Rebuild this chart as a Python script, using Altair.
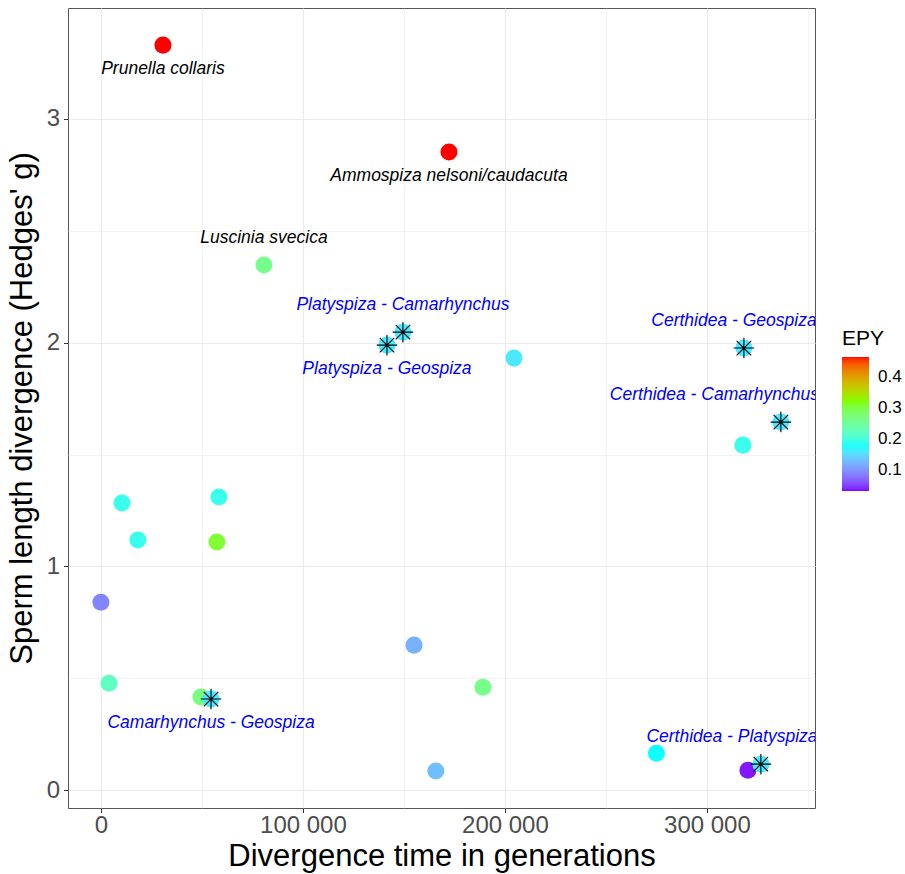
import altair as alt
import pandas as pd

# Divergence time (generations), Hedges' g, EPY, finch pair flag, label, label side
gen = [30700, 172300, 80700, 204500, 317800, 10400, 58400, 18300, 57400, 0,
       4000, 155000, 189100, 49500, 165800, 275000, 320300,
       149500, 141600, 318300, 336600, 54500, 326700]
hedges_g = [3.33, 2.852, 2.347, 1.931, 1.542, 1.283, 1.310, 1.118, 1.109, 0.840,
            0.478, 0.648, 0.460, 0.416, 0.085, 0.165, 0.089,
            2.047, 1.989, 1.976, 1.645, 0.407, 0.116]
epy = [0.465, 0.465, 0.262, 0.16, 0.19, 0.19, 0.19, 0.19, 0.31, 0.09,
       0.22, 0.12, 0.262, 0.27, 0.13, 0.175, 0.035,
       0.16, 0.16, 0.16, 0.16, 0.16, 0.16]
finch = [0] * 17 + [1] * 6
label = ["Prunella collaris", "Ammospiza nelsoni/caudacuta", "Luscinia svecica"] + [""] * 14 + [
    "Platyspiza - Camarhynchus", "Platyspiza - Geospiza", "Certhidea - Geospiza",
    "Certhidea - Camarhynchus", "Camarhynchus - Geospiza", "Certhidea - Platyspiza"]
label_side = ["below", "below", "above"] + [""] * 14 + [
    "above", "below", "above", "above", "below", "above"]
# x position (generations) at which each label is centred
label_gen = [30700, 172300, 80700, 204500, 317800, 10400, 58400, 18300, 57400, 0,
             4000, 155000, 189100, 49500, 165800, 275000, 320300,
             149500, 141600, 313400, 303700, 54500, 312400]

x_ticks = [0, 50000, 100000, 150000, 200000, 250000, 300000, 350000]
y_ticks = [0, 0.5, 1, 1.5, 2, 2.5, 3, 3.5]
legend_ticks = [0.1, 0.2, 0.3, 0.4]

df = pd.DataFrame({"gen": gen, "g": hedges_g, "epy": epy, "finch": finch,
                   "label": label, "side": label_side, "label_gen": label_gen})

FONT = "Liberation Sans"

x_enc = alt.X("gen:Q",
              scale=alt.Scale(domain=[-16300, 353500], nice=False, zero=False),
              axis=alt.Axis(values=x_ticks, title="Divergence time in generations",
                            labelExpr="datum.value % 100000 === 0 ? replace(format(datum.value, ','), ',', ' ') : ''",
                            gridWidth={"condition": {"test": "datum.value % 100000 !== 0", "value": 0.6}, "value": 1.2},
                            tickOpacity={"condition": {"test": "datum.value % 100000 !== 0", "value": 0}, "value": 1}))
y_enc = alt.Y("g:Q",
              scale=alt.Scale(domain=[-0.08, 3.496], nice=False, zero=False),
              axis=alt.Axis(values=y_ticks, title="Sperm length divergence (Hedges' g)",
                            labelExpr="datum.value % 1 === 0 ? format(datum.value, 'd') : ''",
                            gridWidth={"condition": {"test": "datum.value % 1 !== 0", "value": 0.6}, "value": 1.2},
                            tickOpacity={"condition": {"test": "datum.value % 1 !== 0", "value": 0}, "value": 1}))

color_enc = alt.Color("epy:Q",
                      scale=alt.Scale(domain=[0.032, 0.176, 0.321, 0.465],
                                      range=["#8000FF", "#00FFFF", "#80FF00", "#FF0000"],
                                      interpolate="lab"),
                      legend=alt.Legend(title="EPY", values=legend_ticks, orient="none",
                                        legendX=774, legendY=320, gradientLength=134,
                                        gradientThickness=27, gradientStrokeWidth=0,
                                        labelFontSize=17, titleFontSize=21,
                                        titleFontWeight="normal", labelColor="black",
                                        titleColor="black", labelFont=FONT, titleFont=FONT,
                                        titlePadding=8, labelOffset=9))

base = alt.Chart(df)

points = base.mark_circle(size=290, opacity=1).encode(x=x_enc, y=y_enc, color=color_enc)

star_path = "M-1,0L1,0M0,-1L0,1M-0.707,-0.707L0.707,0.707M-0.707,0.707L0.707,-0.707"
stars = base.transform_filter("datum.finch == 1").mark_point(
    shape=star_path, size=420, filled=False, stroke="black", strokeWidth=1.1, opacity=1
).encode(x="gen:Q", y="g:Q")

txt_color = alt.condition("datum.finch == 1", alt.value("#0000FF"), alt.value("black"))
above = base.transform_filter("datum.side == 'above'").mark_text(
    fontStyle="italic", fontSize=17.5, font=FONT, dy=-27, baseline="middle", clip=True
).encode(x="label_gen:Q", y="g:Q", text="label:N", color=txt_color)
below = base.transform_filter("datum.side == 'below'").mark_text(
    fontStyle="italic", fontSize=17.5, font=FONT, dy=24, baseline="middle", clip=True
).encode(x="label_gen:Q", y="g:Q", text="label:N", color=txt_color)

chart = alt.layer(points, stars, above, below).properties(
    width=747, height=800,
    autosize=alt.AutoSizeParams(type="none"),
    padding={"left": 68, "top": 8, "right": 90, "bottom": 66},
).configure_view(
    stroke="#555555", strokeWidth=1
).configure_axis(
    domain=False, gridColor="#EBEBEB", tickColor="#333333", tickSize=4.5,
    labelFontSize=24, labelColor="#4D4D4D", labelFont=FONT,
    titleFontSize=31, titleFontWeight="normal", titleColor="black", titleFont=FONT,
).configure_axisX(titlePadding=4, labelPadding=1).configure_axisY(titlePadding=8, labelPadding=4)

chart.save("out.html", embed_options={"renderer": "svg", "actions": False})
